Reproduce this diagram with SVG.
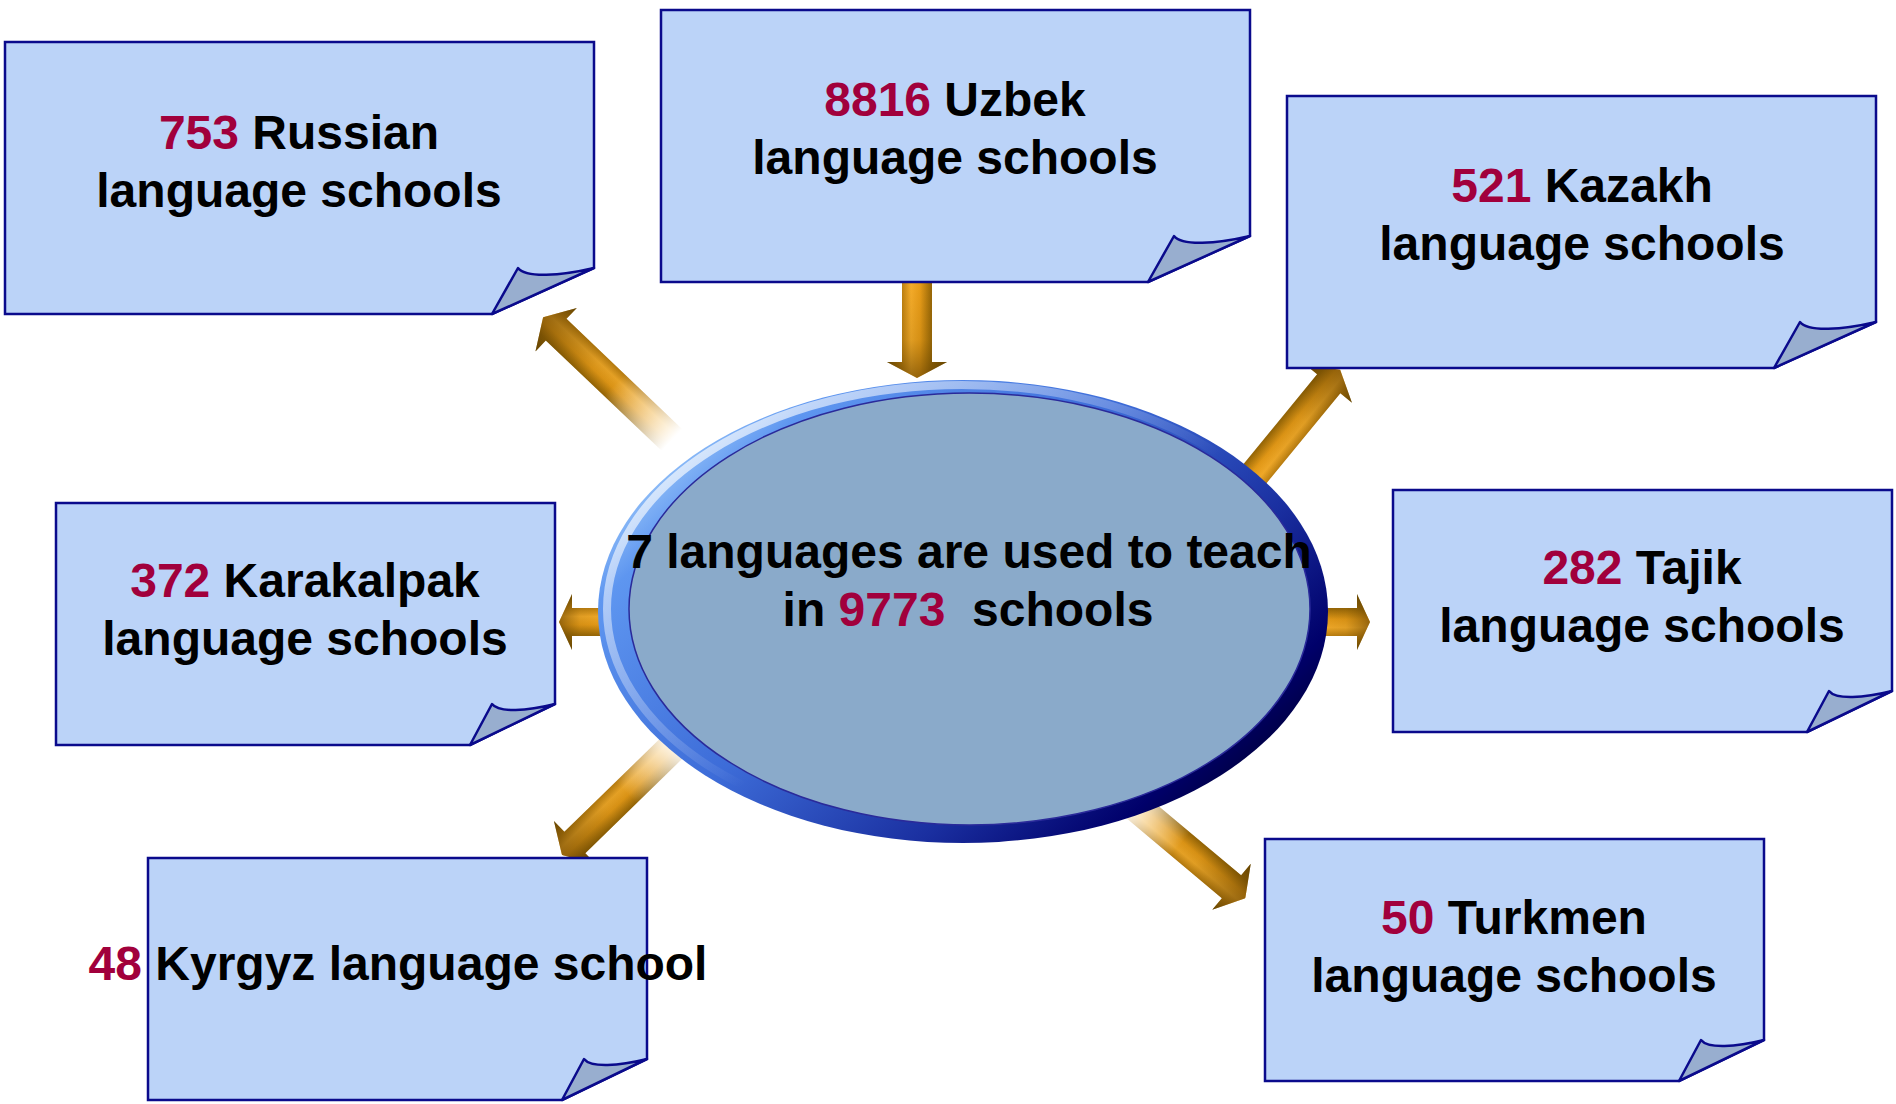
<svg xmlns="http://www.w3.org/2000/svg" width="1896" height="1104" viewBox="0 0 1896 1104">
<defs>
<style>
.box{fill:#BBD3F8;stroke:#0A0A8C;stroke-width:2.5;stroke-linejoin:miter}
.fold{fill:#98AECF;stroke:#0A0A8C;stroke-width:2.5;stroke-linejoin:round}
.t{font-family:"Liberation Sans",Arial,sans-serif;font-weight:bold;font-size:48px;fill:#000;text-anchor:middle}
.n{fill:#A1003C}
.arr{fill:url(#arrG)}
.arrS{fill:url(#arrL)}
</style>
<linearGradient id="arrG" x1="0" y1="0" x2="0" y2="1">
<stop offset="0" stop-color="#6B4A00"/>
<stop offset="0.27" stop-color="#9C6A08"/>
<stop offset="0.45" stop-color="#E89C18"/>
<stop offset="0.6" stop-color="#F5AC2A"/>
<stop offset="0.74" stop-color="#C08212"/>
<stop offset="1" stop-color="#6B4A00"/>
</linearGradient>
<linearGradient id="arrL" x1="0" y1="0" x2="1" y2="0">
<stop offset="0" stop-color="#6B4A00" stop-opacity="0"/>
<stop offset="0.6" stop-color="#6B4A00" stop-opacity="0.15"/>
<stop offset="1" stop-color="#5A3A00" stop-opacity="0.6"/>
</linearGradient>
<linearGradient id="fadeG" x1="0" y1="0" x2="1" y2="0">
<stop offset="0" stop-color="#000"/>
<stop offset="0.45" stop-color="#fff"/>
</linearGradient>
<mask id="fade" maskContentUnits="objectBoundingBox">
<rect x="0" y="0" width="1" height="1" fill="url(#fadeG)"/>
</mask>
<linearGradient id="ringG" x1="0.05" y1="0.1" x2="1" y2="0.75">
<stop offset="0" stop-color="#BFE4FF"/>
<stop offset="0.15" stop-color="#5E96F0"/>
<stop offset="0.45" stop-color="#3D6CD8"/>
<stop offset="0.72" stop-color="#1A2FA0"/>
<stop offset="0.9" stop-color="#00006A"/>
<stop offset="1" stop-color="#000030"/>
</linearGradient>
<linearGradient id="hlG" x1="0" y1="0" x2="0.55" y2="0.5">
<stop offset="0" stop-color="#ffffff" stop-opacity="0.9"/>
<stop offset="1" stop-color="#ffffff" stop-opacity="0"/>
</linearGradient>
</defs>
<rect width="1896" height="1104" fill="#fff"/>

<g id="connectors">
<g id="arrow-russian" transform="translate(672,440) rotate(-136.4)" mask="url(#fade)">
<path class="arr" d="M0,-15 H160 V-30 L178,0 L160,30 V15 H0 Z"/>
<path class="arrS" d="M0,-15 H160 V-30 L178,0 L160,30 V15 H0 Z"/>
</g>
<g id="arrow-uzbek" transform="translate(917,282) rotate(90)">
<path class="arr" d="M0,-15 H80 V-30 L96,0 L80,30 V15 H0 Z"/>
<path class="arrS" d="M0,-15 H80 V-30 L96,0 L80,30 V15 H0 Z"/>
</g>
<g id="arrow-kazakh" transform="translate(1240,492) rotate(-50.66)">
<path class="arr" d="M0,-15 H140 V-30 L158,0 L140,30 V15 H0 Z"/>
<path class="arrS" d="M0,-15 H140 V-30 L158,0 L140,30 V15 H0 Z"/>
</g>
<g id="arrow-karakalpak" transform="translate(612,622) rotate(180)">
<path class="arr" d="M0,-14 H40 V-28 L53,0 L40,28 V14 H0 Z"/>
<path class="arrS" d="M0,-14 H40 V-28 L53,0 L40,28 V14 H0 Z"/>
</g>
<g id="arrow-tajik" transform="translate(1310,622)">
<path class="arr" d="M0,-14 H47 V-28 L60,0 L47,28 V14 H0 Z"/>
<path class="arrS" d="M0,-14 H47 V-28 L60,0 L47,28 V14 H0 Z"/>
</g>
<g id="arrow-kyrgyz" transform="translate(678,742) rotate(135.75)" mask="url(#fade)">
<path class="arr" d="M0,-15 H144 V-30 L162,0 L144,30 V15 H0 Z"/>
<path class="arrS" d="M0,-15 H144 V-30 L162,0 L144,30 V15 H0 Z"/>
</g>
<g id="arrow-turkmen" transform="translate(1128,800) rotate(39.95)" mask="url(#fade)">
<path class="arr" d="M0,-15 H135 V-30 L153,0 L135,30 V15 H0 Z"/>
<path class="arrS" d="M0,-15 H135 V-30 L153,0 L135,30 V15 H0 Z"/>
</g>
</g>

<g id="center">
<ellipse cx="963" cy="611.5" rx="365" ry="231.5" fill="url(#ringG)"/>
<ellipse cx="962" cy="609" rx="355" ry="224" fill="none" stroke="url(#hlG)" stroke-width="8"/>
<ellipse cx="969.5" cy="609" rx="340.5" ry="216" fill="#8AAACA" stroke="#2A2A9A" stroke-width="1.5"/>
<text class="t" x="969" y="568">7 languages are used to teach</text>
<text class="t" x="968" y="626" xml:space="preserve">in <tspan class="n">9773</tspan>  schools</text>
</g>

<g id="node-russian" transform="translate(5,42)">
<path class="box" d="M0,0 H589 V226 L487,272 H0 Z"/>
<path class="fold" d="M487,272 L513,226 C521,236 555,234 589,226 Z"/>
<text class="t" x="294" y="107"><tspan class="n">753</tspan> Russian</text>
<text class="t" x="294" y="165">language schools</text>
</g>

<g id="node-uzbek" transform="translate(661,10)">
<path class="box" d="M0,0 H589 V226 L487,272 H0 Z"/>
<path class="fold" d="M487,272 L513,226 C521,236 555,234 589,226 Z"/>
<text class="t" x="294" y="106"><tspan class="n">8816</tspan> Uzbek</text>
<text class="t" x="294" y="164">language schools</text>
</g>

<g id="node-kazakh" transform="translate(1287,96)">
<path class="box" d="M0,0 H589 V226 L487,272 H0 Z"/>
<path class="fold" d="M487,272 L513,226 C521,236 555,234 589,226 Z"/>
<text class="t" x="295" y="106"><tspan class="n">521</tspan> Kazakh</text>
<text class="t" x="295" y="164">language schools</text>
</g>

<g id="node-karakalpak" transform="translate(56,503)">
<path class="box" d="M0,0 H499 V201 L414,242 H0 Z"/>
<path class="fold" d="M414,242 L436,201 C443,210 471,208 499,201 Z"/>
<text class="t" x="249" y="94"><tspan class="n">372</tspan> Karakalpak</text>
<text class="t" x="249" y="152">language schools</text>
</g>

<g id="node-kyrgyz" transform="translate(148,858)">
<path class="box" d="M0,0 H499 V201 L414,242 H0 Z"/>
<path class="fold" d="M414,242 L436,201 C443,210 471,208 499,201 Z"/>
<text class="t" x="250" y="122"><tspan class="n">48</tspan> Kyrgyz language school</text>
</g>

<g id="node-tajik" transform="translate(1393,490)">
<path class="box" d="M0,0 H499 V201 L414,242 H0 Z"/>
<path class="fold" d="M414,242 L436,201 C443,210 471,208 499,201 Z"/>
<text class="t" x="249" y="94"><tspan class="n">282</tspan> Tajik</text>
<text class="t" x="249" y="152">language schools</text>
</g>

<g id="node-turkmen" transform="translate(1265,839)">
<path class="box" d="M0,0 H499 V201 L414,242 H0 Z"/>
<path class="fold" d="M414,242 L436,201 C443,210 471,208 499,201 Z"/>
<text class="t" x="249" y="95"><tspan class="n">50</tspan> Turkmen</text>
<text class="t" x="249" y="153">language schools</text>
</g>
</svg>
